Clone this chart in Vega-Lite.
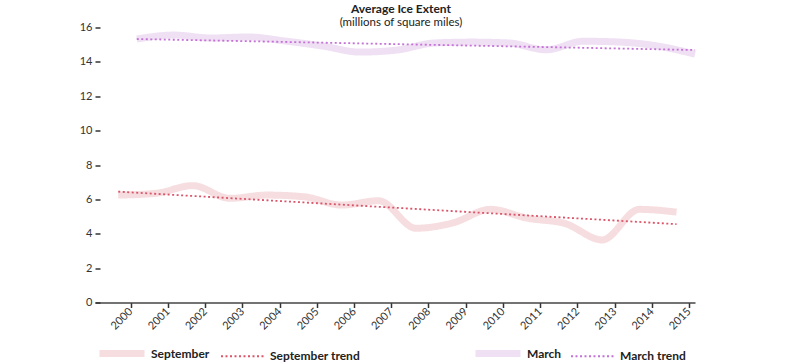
{
  "$schema": "https://vega.github.io/schema/vega-lite/v6.json",
  "width": 600,
  "height": 275,
  "autosize": {"type": "none"},
  "padding": {"left": 95, "top": 27.5, "right": 105, "bottom": 60.5},
  "background": "white",
  "title": {
    "text": "Average Ice Extent",
    "subtitle": "(millions of square miles)",
    "anchor": "middle",
    "dx": 6,
    "offset": -8,
    "font": "Lato",
    "fontSize": 12,
    "fontWeight": "bold",
    "color": "#222222",
    "subtitleFont": "Lato",
    "subtitleFontSize": 11.5,
    "subtitleColor": "#222222",
    "subtitlePadding": 1
  },
  "config": {
    "view": {"stroke": null},
    "font": "Lato",
    "axis": {
      "labelFont": "Lato",
      "labelFontSize": 11,
      "labelColor": "#333333",
      "tickColor": "#333333",
      "grid": false,
      "title": null,
      "labelOverlap": false
    },
    "legend": {
      "labelFont": "Lato",
      "labelFontSize": 12,
      "labelFontWeight": "bold",
      "labelColor": "#222222"
    }
  },
  "datasets": {
    "sept": [
      {"date": "1999-09-01", "value": 6.25, "series": "September"},
      {"date": "2000-09-01", "value": 6.35, "series": "September"},
      {"date": "2001-09-01", "value": 6.8, "series": "September"},
      {"date": "2002-09-01", "value": 6.06, "series": "September"},
      {"date": "2003-09-01", "value": 6.25, "series": "September"},
      {"date": "2004-09-01", "value": 6.15, "series": "September"},
      {"date": "2005-09-01", "value": 5.67, "series": "September"},
      {"date": "2006-09-01", "value": 5.92, "series": "September"},
      {"date": "2007-09-01", "value": 4.32, "series": "September"},
      {"date": "2008-09-01", "value": 4.64, "series": "September"},
      {"date": "2009-09-01", "value": 5.42, "series": "September"},
      {"date": "2010-09-01", "value": 4.9, "series": "September"},
      {"date": "2011-09-01", "value": 4.6, "series": "September"},
      {"date": "2012-09-01", "value": 3.64, "series": "September"},
      {"date": "2013-09-01", "value": 5.42, "series": "September"},
      {"date": "2014-09-01", "value": 5.26, "series": "September"},
      {"date": "1999-09-01", "value": 6.45, "series": "September trend"},
      {"date": "2014-09-01", "value": 4.56, "series": "September trend"}
    ],
    "march": [
      {"date": "2000-03-01", "value": 15.33, "series": "March"},
      {"date": "2001-03-01", "value": 15.56, "series": "March"},
      {"date": "2002-03-01", "value": 15.39, "series": "March"},
      {"date": "2003-03-01", "value": 15.45, "series": "March"},
      {"date": "2004-03-01", "value": 15.21, "series": "March"},
      {"date": "2005-03-01", "value": 14.92, "series": "March"},
      {"date": "2006-03-01", "value": 14.57, "series": "March"},
      {"date": "2007-03-01", "value": 14.69, "series": "March"},
      {"date": "2008-03-01", "value": 15.1, "series": "March"},
      {"date": "2009-03-01", "value": 15.15, "series": "March"},
      {"date": "2010-03-01", "value": 15.1, "series": "March"},
      {"date": "2011-03-01", "value": 14.7, "series": "March"},
      {"date": "2012-03-01", "value": 15.2, "series": "March"},
      {"date": "2013-03-01", "value": 15.15, "series": "March"},
      {"date": "2014-03-01", "value": 14.92, "series": "March"},
      {"date": "2015-03-01", "value": 14.45, "series": "March"},
      {"date": "2000-03-01", "value": 15.33, "series": "March trend"},
      {"date": "2015-03-01", "value": 14.69, "series": "March trend"}
    ]
  },
  "layer": [
    {
      "data": {"name": "sept"},
      "mark": {"type": "line", "interpolate": "monotone", "strokeCap": "butt", "clip": false},
      "encoding": {
        "x": {
          "field": "date",
          "type": "temporal",
          "scale": {
            "type": "utc",
            "domain": [
              {"year": 1999, "month": 1, "date": 16, "utc": true},
              {"year": 2015, "month": 3, "date": 1, "utc": true}
            ]
          },
          "axis": {
            "tickCount": {"interval": "year", "step": 1},
            "format": "%Y",
            "formatType": "utc",
            "labelAngle": -45,
            "labelAlign": "right",
            "labelBaseline": "middle",
            "tickSize": 5,
            "tickWidth": 1.5,
            "domainColor": "#444444",
            "domainWidth": 1.5,
            "labelPadding": 2
          }
        },
        "y": {
          "field": "value",
          "type": "quantitative",
          "scale": {"domain": [0, 16], "nice": false, "zero": true},
          "axis": {
            "values": [0, 2, 4, 6, 8, 10, 12, 14, 16],
            "tickCount": 20,
            "labelOverlap": false,
            "domain": false,
            "tickSize": 5,
            "tickWidth": 1.5,
            "offset": -5,
            "labelPadding": 3
          }
        },
        "color": {
          "field": "series",
          "type": "nominal",
          "scale": {"domain": ["September", "September trend"], "range": ["#f6dde0", "#d9566a"]},
          "legend": {"orient": "none", "legendX": 1, "legendY": 300, "direction": "horizontal", "title": null, "symbolType": "stroke", "symbolSize": 2025, "labelOffset": 3, "columnPadding": 7}
        },
        "strokeDash": {
          "field": "series",
          "type": "nominal",
          "scale": {"domain": ["September", "September trend"], "range": [[1, 0], [2, 2.5]]},
          "legend": {"orient": "none", "legendX": 1, "legendY": 300, "direction": "horizontal", "title": null, "symbolType": "stroke", "symbolSize": 2025, "labelOffset": 3, "columnPadding": 7}
        },
        "strokeWidth": {
          "field": "series",
          "type": "nominal",
          "scale": {"domain": ["September", "September trend"], "range": [7, 1.8]},
          "legend": {"orient": "none", "legendX": 1, "legendY": 300, "direction": "horizontal", "title": null, "symbolType": "stroke", "symbolSize": 2025, "labelOffset": 3, "columnPadding": 7}
        }
      }
    },
    {
      "data": {"name": "march"},
      "mark": {"type": "line", "interpolate": "monotone", "strokeCap": "butt", "clip": false},
      "encoding": {
        "x": {
          "field": "date",
          "type": "temporal",
          "axis": {
            "tickCount": {"interval": "year", "step": 1},
            "format": "%Y",
            "formatType": "utc",
            "labelAngle": -45,
            "labelAlign": "right",
            "labelBaseline": "middle",
            "tickSize": 5,
            "tickWidth": 1.5,
            "domainColor": "#444444",
            "domainWidth": 1.5,
            "labelPadding": 2
          }
        },
        "y": {
          "field": "value",
          "type": "quantitative",
          "axis": {
            "values": [0, 2, 4, 6, 8, 10, 12, 14, 16],
            "tickCount": 20,
            "labelOverlap": false,
            "domain": false,
            "tickSize": 5,
            "tickWidth": 1.5,
            "offset": -5,
            "labelPadding": 3
          }
        },
        "color": {
          "field": "series",
          "type": "nominal",
          "scale": {"domain": ["March", "March trend"], "range": ["#efe0f4", "#c472d6"]},
          "legend": {"orient": "none", "legendX": 377, "legendY": 300, "direction": "horizontal", "title": null, "symbolType": "stroke", "symbolSize": 2025, "labelOffset": 3, "columnPadding": 5}
        },
        "strokeDash": {
          "field": "series",
          "type": "nominal",
          "scale": {"domain": ["March", "March trend"], "range": [[1, 0], [2, 2.5]]},
          "legend": {"orient": "none", "legendX": 377, "legendY": 300, "direction": "horizontal", "title": null, "symbolType": "stroke", "symbolSize": 2025, "labelOffset": 3, "columnPadding": 5}
        },
        "strokeWidth": {
          "field": "series",
          "type": "nominal",
          "scale": {"domain": ["March", "March trend"], "range": [7, 1.8]},
          "legend": {"orient": "none", "legendX": 377, "legendY": 300, "direction": "horizontal", "title": null, "symbolType": "stroke", "symbolSize": 2025, "labelOffset": 3, "columnPadding": 5}
        }
      }
    }
  ],
  "resolve": {"scale": {"color": "independent", "strokeDash": "independent", "strokeWidth": "independent"}}
}
